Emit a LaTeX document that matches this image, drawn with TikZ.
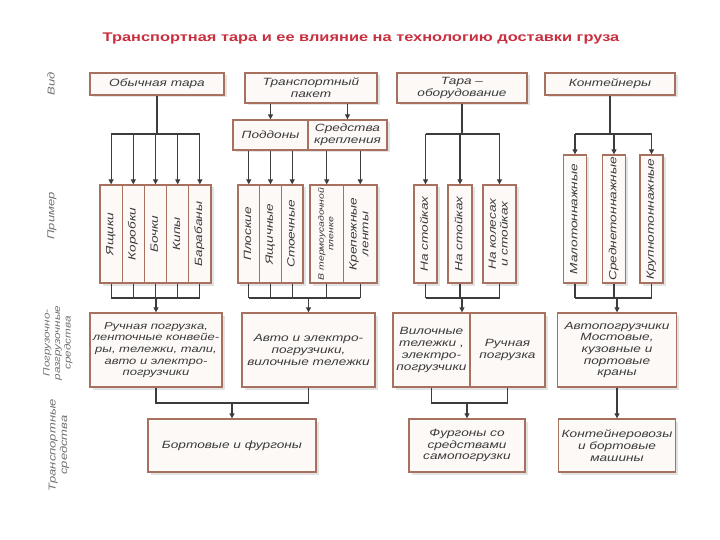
\documentclass[tikz,border=0pt]{standalone}
\usepackage{fontspec}
\setmainfont{Liberation Sans}
\newfontfamily\diagfont[FakeStretch=1.3]{Liberation Sans}
\usetikzlibrary{arrows.meta,shadows}

\definecolor{framered}{HTML}{A8705F}
\definecolor{boxfill}{HTML}{FDF9F7}
\definecolor{titlered}{HTML}{C9303F}
\definecolor{linegray}{HTML}{3C3C3C}
\definecolor{textgray}{HTML}{3A3A3A}
\definecolor{rowgray}{HTML}{707070}

\newcommand{\vtext}[1]{\rotatebox{90}{\begin{tabular}{@{}c@{}}#1\end{tabular}}}

\begin{document}
\begin{tikzpicture}[
    x=1pt, y=-1pt,
    font=\diagfont\itshape\fontsize{10.5}{11.7}\selectfont,
    box/.style={draw=framered, line width=1.3pt, fill=boxfill, text=textgray,
                align=center, inner sep=0pt,
                drop shadow={shadow xshift=2.5pt, shadow yshift=-2.5pt, fill=black!22}},
    sample/.style={box, minimum height=98},
    rowlabel/.style={text=rowgray, rotate=90, align=center,
                     font=\diagfont\itshape\fontsize{10}{11.5}\selectfont},
    link/.style={draw=linegray, line width=1.1pt},
    arrow/.style={link, -{Triangle[length=5pt,width=5pt]}}
]
\useasboundingbox (0,0) rectangle (720,540);

\node[text=titlered, font=\diagfont\bfseries\fontsize{12.6}{14}\selectfont] (title) at (361,38)
  {Транспортная тара и ее влияние на технологию доставки груза};

% row labels
\node[rowlabel] (rkind) at (51,84) {Вид};
\node[rowlabel] (rsample) at (52,216) {Пример};
\node[rowlabel, font=\diagfont\itshape\fontsize{9}{10.5}\selectfont] (rload) at (58,343)
  {Погрузочно-\\разгрузочные\\средства};
\node[rowlabel] (rtrans) at (59,445) {Транспортные\\средства};

% kinds
\node[box, minimum width=134, minimum height=22] (plain) at (157,84) {Обычная тара};
\node[box, minimum width=132, minimum height=30] (pack) at (311,88) {Транспортный\\пакет};
\node[box, minimum width=130, minimum height=30] (equip) at (462,88) {Тара –\\оборудование};
\node[box, minimum width=130, minimum height=22] (cont) at (610,84) {Контейнеры};

\node[box, minimum width=75, minimum height=30] (pallet) at (270.5,135) {Поддоны};
\node[box, minimum width=79, minimum height=30] (fasten) at (347.5,135) {Средства\\крепления};

% samples
\foreach \x/\n/\t in {111.1/a/Ящики, 133.3/b/Коробки, 155.5/c/Бочки, 177.7/d/Кипы, 199.9/e/Барабаны}
  \node[sample, minimum width=22.2] (p\n) at (\x,234) {\vtext{\t}};
\foreach \x/\n/\t in {248.8/a/Плоские, 270.5/b/Ящичные, 292.2/c/Стоечные}
  \node[sample, minimum width=21.7] (q\n) at (\x,234) {\vtext{\t}};
\node[sample, minimum width=33.5, font=\diagfont\itshape\fontsize{8}{9.5}\selectfont] (ra) at (326.75,234)
  {\vtext{В термоусадочной\\пленке}};
\node[sample, minimum width=33.5] (rb) at (360.25,234) {\vtext{Крепежные\\ленты}};
\node[sample, minimum width=23] (sa) at (425.5,234) {\vtext{На стойках}};
\node[sample, minimum width=24] (sb) at (460,234) {\vtext{На стойках}};
\node[sample, minimum width=33] (sc) at (499.5,234) {\vtext{На колесах\\и стойках}};
\foreach \x/\n/\t in {575/a/Малотоннажные, 614/b/Среднетоннажные, 651.5/c/Крупнотоннажные}
  \node[sample, minimum width=23, minimum height=128] (t\n) at (\x,219) {\vtext{\t}};

% handling means
\node[box, minimum width=132, minimum height=74, font=\diagfont\itshape\fontsize{10}{11.7}\selectfont] (load1) at (156,350)
  {Ручная погрузка,\\ленточные конвейе-\\ры, тележки, тали,\\авто и электро-\\погрузчики};
\node[box, minimum width=133, minimum height=74] (load2) at (308.5,350)
  {Авто и электро-\\погрузчики,\\вилочные тележки};
\node[box, minimum width=77, minimum height=74] (load3a) at (431.5,350)
  {Вилочные\\тележки ,\\электро-\\погрузчики};
\node[box, minimum width=75, minimum height=74] (load3b) at (507.5,350) {Ручная\\погрузка};
\node[box, minimum width=119, minimum height=74] (load4) at (617,350)
  {Автопогрузчики\\Мостовые,\\кузовные и\\портовые\\краны};

% vehicles
\node[box, minimum width=168, minimum height=53] (trans1) at (232,445.5) {Бортовые и фургоны};
\node[box, minimum width=116, minimum height=53] (trans2) at (467,445.5)
  {Фургоны со\\средствами\\самопогрузки};
\node[box, minimum width=117, minimum height=53] (trans3) at (617,445.5)
  {Контейнеровозы\\и бортовые\\машины};

% kind -> sample
\coordinate (plainfork) at (157,134);
\draw[link] (plain) -- (plainfork);
\draw[link] (plainfork -| pa) -- (plainfork -| pe);
\foreach \n in {a,...,e} \draw[arrow] (plainfork -| p\n) -- (p\n);

\draw[arrow] (pack.south -| pallet) -- (pallet);
\draw[arrow] (pack.south -| fasten) -- (fasten);
\foreach \n in {a,b,c} \draw[arrow] (pallet.south -| q\n) -- (q\n);
\foreach \n in {a,b} \draw[arrow] (fasten.south -| r\n) -- (r\n);

\coordinate (equipfork) at (462,134);
\draw[link] (equip) -- (equipfork);
\draw[link] (equipfork -| sa) -- (equipfork -| sc);
\foreach \n in {a,b,c} \draw[arrow] (equipfork -| s\n) -- (s\n);

\coordinate (contfork) at (610,134);
\draw[link] (cont) -- (contfork);
\draw[link] (contfork -| ta) -- (contfork -| tc);
\foreach \n in {a,b,c} \draw[arrow] (contfork -| t\n) -- (t\n);

% sample -> handling
\coordinate (plainjoin) at (156,298);
\foreach \n in {a,...,e} \draw[link] (p\n) -- (p\n |- plainjoin);
\draw[link] (pa |- plainjoin) -- (pe |- plainjoin);
\draw[arrow] (load1.north |- plainjoin) -- (load1);

\coordinate (packjoin) at (308.5,298);
\foreach \n in {qa,qb,qc,ra,rb} \draw[link] (\n) -- (\n |- packjoin);
\draw[link] (qa |- packjoin) -- (rb |- packjoin);
\draw[arrow] (load2.north |- packjoin) -- (load2);

\coordinate (equipjoin) at (462,298);
\foreach \n in {a,b,c} \draw[link] (s\n) -- (s\n |- equipjoin);
\draw[link] (sa |- equipjoin) -- (sc |- equipjoin);
\draw[arrow] (equipjoin) -- (equipjoin |- load3a.north);

\coordinate (contjoin) at (617,298);
\foreach \n in {a,b,c} \draw[link] (t\n) -- (t\n |- contjoin);
\draw[link] (ta |- contjoin) -- (tc |- contjoin);
\draw[arrow] (load4.north |- contjoin) -- (load4);

% handling -> vehicles
\coordinate (loadjoin) at (232,403);
\draw[link] (load1) -- (load1 |- loadjoin) -- (load2 |- loadjoin) -- (load2);
\draw[arrow] (trans1 |- loadjoin) -- (trans1);

\coordinate (sidejoin) at (467,403);
\draw[link] (load3a) -- (load3a |- sidejoin) -- (load3b |- sidejoin) -- (load3b);
\draw[arrow] (trans2 |- sidejoin) -- (trans2);

\draw[arrow] (load4) -- (trans3);
\end{tikzpicture}
\end{document}
